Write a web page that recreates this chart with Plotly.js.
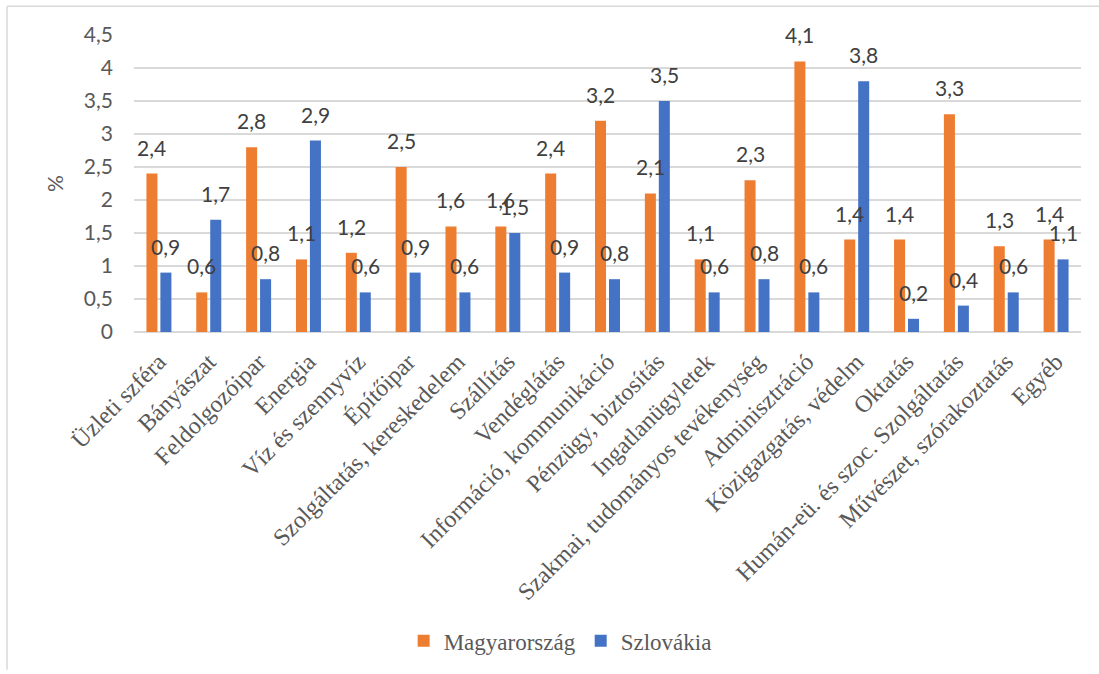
<!DOCTYPE html>
<html>
<head>
<meta charset="utf-8">
<script src="https://cdn.plot.ly/plotly-3.0.1.min.js"></script>
<style>html,body{margin:0;padding:0;background:#fff;}#chart{width:1099px;height:674px;}</style>
</head>
<body>
<div id="chart"></div>
<script>
const categories = [
  "Üzleti szféra", "Bányászat", "Feldolgozóipar", "Energia", "Víz és szennyvíz",
  "Építőipar", "Szolgáltatás, kereskedelem", "Szállítás", "Vendéglátás",
  "Információ, kommunikáció", "Pénzügy, biztosítás", "Ingatlanügyletek",
  "Szakmai, tudományos tevékenység", "Adminisztráció", "Közigazgatás, védelm",
  "Oktatás", "Humán-eü. és szoc. Szolgáltatás", "Művészet, szórakoztatás", "Egyéb"
];
const magyarorszag = [2.4, 0.6, 2.8, 1.1, 1.2, 2.5, 1.6, 1.6, 2.4, 3.2, 2.1, 1.1, 2.3, 4.1, 1.4, 1.4, 3.3, 1.3, 1.4];
const szlovakia    = [0.9, 1.7, 0.8, 2.9, 0.6, 0.9, 0.6, 1.5, 0.9, 0.8, 3.5, 0.6, 0.8, 0.6, 3.8, 0.2, 0.4, 0.6, 1.1];
const seriesNames = ["Magyarország", "Szlovákia"];
const yTickVals = [0, 0.5, 1, 1.5, 2, 2.5, 3, 3.5, 4, 4.5];
const yTickText = ["0", "0,5", "1", "1,5", "2", "2,5", "3", "3,5", "4", "4,5"];

const fmt = v => v.toFixed(1).replace('.', ',');
const numFont = "Lato";
const serif = "Liberation Serif";

const traces = [
  {type: 'bar', name: seriesNames[0], x: categories, y: magyarorszag,
   marker: {color: '#ED7D31'}, hoverinfo: 'none'},
  {type: 'bar', name: seriesNames[1], x: categories, y: szlovakia,
   marker: {color: '#4472C4'}, hoverinfo: 'none'}
];

const annotations = [];
[[magyarorszag, -7], [szlovakia, 7]].forEach(([vals, shift]) => {
  vals.forEach((v, i) => {
    annotations.push({
      x: categories[i], y: v, xref: 'x', yref: 'y',
      text: fmt(v), showarrow: false,
      xanchor: 'center', yanchor: 'bottom',
      xshift: shift, yshift: 12,
      font: {family: numFont, size: 21, color: '#404040'}
    });
  });
});

const layout = {
  width: 1099, height: 674,
  margin: {l: 134, r: 18, t: 35, b: 340},
  paper_bgcolor: '#ffffff', plot_bgcolor: '#ffffff',
  barmode: 'group', bargap: 0.44, bargroupgap: 0.21,
  showlegend: true,
  legend: {orientation: 'h', x: 0.45, xanchor: 'center', y: -1.04, yanchor: 'middle',
           font: {family: serif, size: 23, color: '#595959'},
           itemwidth: 30, traceorder: 'normal'},
  xaxis: {
    type: 'category', tickangle: -45, showgrid: false, zeroline: false,
    showline: false, ticks: '', ticklabelstandoff: 10,
    tickfont: {family: serif, size: 24, color: '#595959'}
  },
  yaxis: {
    range: [0, 4.5], tickvals: yTickVals, ticktext: yTickText,
    showgrid: true, gridcolor: '#D9D9D9', gridwidth: 1.5,
    zeroline: true, zerolinecolor: '#D9D9D9', zerolinewidth: 1.5,
    showline: false, ticks: '', ticklabelstandoff: 20,
    tickfont: {family: numFont, size: 21, color: '#595959'},
    title: {text: '%', standoff: 14, font: {family: numFont, size: 21, color: '#595959'}}
  },
  annotations: annotations,
  shapes: [
    {type: 'line', xref: 'paper', yref: 'paper', x0: (7-134)/947, x1: (1099-134)/947,
     y0: (334-6)/299, y1: (334-6)/299, line: {color: '#D9D9D9', width: 1.5}},
    {type: 'line', xref: 'paper', yref: 'paper', x0: (7-134)/947, x1: (7-134)/947,
     y0: (334-6)/299, y1: (334-674)/299, line: {color: '#D9D9D9', width: 1.5}}
  ]
};

Plotly.newPlot('chart', traces, layout, {displayModeBar: false, staticPlot: true});
</script>
</body>
</html>
